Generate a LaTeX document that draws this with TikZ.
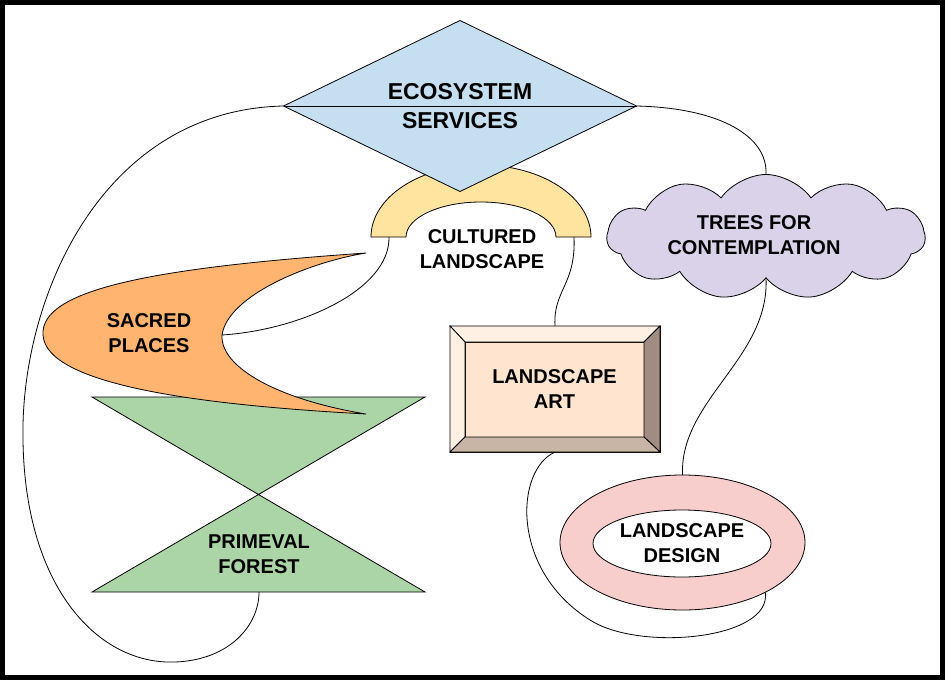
\documentclass[tikz,border=0pt]{standalone}
\usepackage{fontspec}
\setmainfont{Liberation Sans}
\usepackage{tikz}
\definecolor{ecoblue}{RGB}{198,223,240}
\definecolor{cultyellow}{RGB}{255,228,160}
\definecolor{sacredorange}{RGB}{255,181,112}
\definecolor{forestgreen}{RGB}{171,213,166}
\definecolor{treeslilac}{RGB}{217,210,232}
\definecolor{artpeach}{RGB}{255,229,208}
\definecolor{artlight}{RGB}{255,240,228}
\definecolor{artdark}{RGB}{160,140,128}
\definecolor{artmid}{RGB}{201,181,165}
\definecolor{designpink}{RGB}{248,206,204}
\usetikzlibrary{shapes.geometric,shapes.symbols}

\tikzset{
    lbl/.style={font=\bfseries\fontsize{20}{25}\selectfont, align=center, inner sep=0pt},
    shp/.style={draw=black, line width=0.8pt, outer sep=0pt},
    link/.style={draw=black, line width=0.8pt}
}

\begin{document}
\begin{tikzpicture}[x=1pt,y=-1pt]
    \fill[black] (0,0) rectangle (945,680);
    \fill[white] (5,5) rectangle (940,675);
    \useasboundingbox (0,0) rectangle (945,680);

    % cultured landscape
    \filldraw[shp, fill=cultyellow] (371,237) arc[start angle=180, end angle=360, x radius=110, y radius=72]
        -- (556,237) arc[start angle=0, end angle=-180, x radius=75, y radius=35] -- cycle;
    \coordinate (clL) at (389,237);
    \coordinate (clR) at (574,237);
    \node[lbl] (cult) at (482,249) {CULTURED\\LANDSCAPE};

    % ecosystem services
    \node[diamond, shp, fill=ecoblue, aspect=2, minimum width=353pt, minimum height=171pt,
        lbl, font=\bfseries\fontsize{23}{29}\selectfont] (eco) at (460,106) {ECOSYSTEM\\SERVICES};
    \draw[shp] (eco.west) -- (eco.east);

    % trees for contemplation
    \node[cloud, cloud puffs=11, cloud puff arc=110, aspect=2.5, shp, fill=treeslilac,
        minimum width=318pt, minimum height=125pt] (cloud) at (766,237) {};
    \node[lbl] (trees) at (754,235) {TREES FOR\\CONTEMPLATION};

    % primeval forest
    \filldraw[shp, fill=forestgreen] (92,397) -- (425,397) -- (92,592) -- (425,592) -- cycle;
    \coordinate (pfbot) at (259,592);
    \node[lbl] (forest) at (259,554) {PRIMEVAL\\FOREST};

    % sacred places
    \filldraw[shp, fill=sacredorange] (366,253) .. controls (150,268) and (40,290) .. (43,335)
        .. controls (46,385) and (200,405) .. (366,414)
        .. controls (280,400) and (220,368) .. (222,335)
        .. controls (228,295) and (310,262) .. (366,253) -- cycle;
    \coordinate (spin) at (222,335);
    \node[lbl] (sacred) at (149,333) {SACRED\\PLACES};

    % landscape art
    \node[shp, fill=artpeach, minimum width=210pt, minimum height=126pt] (art) at (555,389) {};
    \node[shp, fill=artpeach, minimum width=179pt, minimum height=95pt, lbl] (artin) at (554.5,389.5) {LANDSCAPE\\ART};
    \filldraw[shp, fill=artlight] (art.north west) -- (art.north east) -- (artin.north east) -- (artin.north west) -- cycle;
    \filldraw[shp, fill=artlight] (art.north west) -- (artin.north west) -- (artin.south west) -- (art.south west) -- cycle;
    \filldraw[shp, fill=artdark] (art.north east) -- (art.south east) -- (artin.south east) -- (artin.north east) -- cycle;
    \filldraw[shp, fill=artmid] (art.south west) -- (artin.south west) -- (artin.south east) -- (art.south east) -- cycle;

    % landscape design
    \node[ellipse, shp, fill=designpink, minimum width=245pt, minimum height=135pt] (design) at (682.5,542.5) {};
    \node[ellipse, shp, fill=white, minimum width=178pt, minimum height=67pt, lbl] (designin) at (682,543.5) {LANDSCAPE\\DESIGN};

    % links
    \draw[link] (eco.west) .. controls +(-183,4) and +(-3,-140) .. (23,440)
        .. controls +(2,150) and +(-75,3) .. (175,662)
        .. controls +(55,-2) and +(0,33) .. (pfbot);
    \draw[link] (eco.east) .. controls +(84,2) and +(2,-38) .. (cloud.north);
    \draw[link] (clL) .. controls +(1,53) and +(78,-5) .. (spin);
    \draw[link] (clR) .. controls +(2,48) and +(-2,-36) .. (art.north);
    \draw[link] (cloud.south) .. controls +(4,80) and +(-3,-75) .. (design.north);
    \draw[link] (art.south) .. controls +(-40,18) and +(-80,-50) .. (590,620)
        .. controls +(50,32) and +(7,47) .. (design.-31);
\end{tikzpicture}
\end{document}
